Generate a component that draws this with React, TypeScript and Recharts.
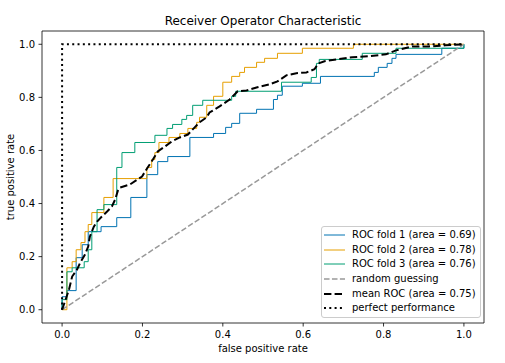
import React from 'react';
import { LineChart, Line, XAxis, YAxis, ReferenceArea, Legend } from 'recharts';

const FONT = '"DejaVu Sans", sans-serif';
const TITLE = 'Receiver Operator Characteristic';
const X_LABEL = 'false positive rate';
const Y_LABEL = 'true positive rate';
const X_TICKS = [0, 0.2, 0.4, 0.6, 0.8, 1.0];
const Y_TICKS = [0, 0.2, 0.4, 0.6, 0.8, 1.0];

const C1 = '#0072B2';
const C2 = '#E69F00';
const C3 = '#009E73';

// ROC vertices [fpr, tpr]
const fold1: number[][] = [
  [0, 0], [0, 0.049], [0.012, 0.049], [0.012, 0.072], [0.035, 0.072], [0.035, 0.196],
  [0.05, 0.196], [0.05, 0.245], [0.065, 0.245], [0.065, 0.294], [0.097, 0.294], [0.097, 0.313],
  [0.136, 0.313], [0.136, 0.347], [0.171, 0.347], [0.171, 0.423], [0.211, 0.423], [0.211, 0.509],
  [0.238, 0.509], [0.238, 0.558], [0.263, 0.558], [0.263, 0.577], [0.318, 0.577], [0.318, 0.649],
  [0.377, 0.649], [0.377, 0.664], [0.407, 0.664], [0.407, 0.687], [0.422, 0.687], [0.422, 0.702],
  [0.442, 0.702], [0.442, 0.74], [0.484, 0.74], [0.484, 0.755], [0.526, 0.755], [0.526, 0.792],
  [0.536, 0.792], [0.536, 0.808], [0.548, 0.808], [0.548, 0.842], [0.598, 0.842], [0.598, 0.853],
  [0.643, 0.853], [0.643, 0.879], [0.777, 0.879], [0.777, 0.894], [0.787, 0.894], [0.787, 0.913],
  [0.809, 0.913], [0.809, 0.928], [0.821, 0.928], [0.821, 0.947], [0.831, 0.947], [0.831, 0.962],
  [0.945, 0.962], [0.945, 0.985], [1.0, 0.985], [1.0, 1.0],
];

const fold2: number[][] = [
  [0, 0], [0.012, 0], [0.012, 0.158], [0.025, 0.158], [0.025, 0.181], [0.035, 0.181],
  [0.035, 0.226], [0.047, 0.226], [0.047, 0.253], [0.057, 0.253], [0.057, 0.294], [0.065, 0.294],
  [0.065, 0.321], [0.074, 0.321], [0.074, 0.366], [0.104, 0.366], [0.104, 0.423], [0.127, 0.423],
  [0.127, 0.494], [0.211, 0.494], [0.211, 0.536], [0.223, 0.536], [0.223, 0.566], [0.231, 0.566],
  [0.231, 0.592], [0.241, 0.592], [0.241, 0.63], [0.266, 0.63], [0.266, 0.649], [0.293, 0.649],
  [0.293, 0.664], [0.313, 0.664], [0.313, 0.683], [0.335, 0.683], [0.335, 0.706], [0.342, 0.706],
  [0.342, 0.725], [0.36, 0.725], [0.36, 0.77], [0.377, 0.77], [0.377, 0.804], [0.4, 0.804],
  [0.4, 0.857], [0.422, 0.857], [0.422, 0.879], [0.442, 0.879], [0.442, 0.894], [0.454, 0.894],
  [0.454, 0.913], [0.484, 0.913], [0.484, 0.932], [0.504, 0.932], [0.504, 0.947], [0.536, 0.947],
  [0.536, 0.966], [0.598, 0.966], [0.598, 0.985], [0.725, 0.985], [0.725, 1.0], [1.0, 1.0],
];

const fold3: number[][] = [
  [0, 0], [0, 0.038], [0.012, 0.038], [0.012, 0.143], [0.025, 0.143], [0.025, 0.158],
  [0.055, 0.158], [0.055, 0.181], [0.065, 0.181], [0.065, 0.226], [0.074, 0.226], [0.074, 0.294],
  [0.087, 0.294], [0.087, 0.377], [0.104, 0.377], [0.104, 0.396], [0.136, 0.396], [0.136, 0.536],
  [0.149, 0.536], [0.149, 0.592], [0.181, 0.592], [0.181, 0.63], [0.231, 0.63], [0.231, 0.657],
  [0.261, 0.657], [0.261, 0.683], [0.275, 0.683], [0.275, 0.698], [0.298, 0.698], [0.298, 0.717],
  [0.31, 0.717], [0.31, 0.732], [0.325, 0.732], [0.325, 0.77], [0.35, 0.77], [0.35, 0.789],
  [0.422, 0.789], [0.422, 0.804], [0.432, 0.804], [0.432, 0.823], [0.546, 0.823], [0.546, 0.857],
  [0.62, 0.857], [0.62, 0.875], [0.633, 0.875], [0.633, 0.928], [0.64, 0.928], [0.64, 0.943],
  [0.747, 0.943], [0.747, 0.966], [0.831, 0.966], [0.831, 0.985], [1.0, 0.985], [1.0, 1.0],
];

const meanFpr = [0, 0.017, 0.025, 0.037, 0.045, 0.057, 0.065, 0.069, 0.079, 0.087, 0.099, 0.112, 0.124, 0.132, 0.139, 0.144, 0.169, 0.199, 0.213, 0.226, 0.238, 0.256, 0.273, 0.293, 0.313, 0.33, 0.342, 0.36, 0.367, 0.392, 0.417, 0.437, 0.459, 0.486, 0.516, 0.536, 0.558, 0.583, 0.608, 0.628, 0.638, 0.653, 0.682, 0.722, 0.764, 0.806, 0.831, 0.871, 0.913, 0.955, 1.0];
const meanTpr = [0, 0.075, 0.125, 0.151, 0.177, 0.208, 0.238, 0.275, 0.313, 0.332, 0.351, 0.37, 0.389, 0.415, 0.449, 0.46, 0.472, 0.502, 0.536, 0.566, 0.596, 0.615, 0.634, 0.649, 0.66, 0.687, 0.706, 0.725, 0.743, 0.766, 0.792, 0.823, 0.826, 0.838, 0.849, 0.86, 0.883, 0.891, 0.894, 0.906, 0.928, 0.936, 0.943, 0.951, 0.955, 0.962, 0.977, 0.992, 0.992, 0.996, 1.0];

const randomPts: number[][] = [[0, 0], [1, 1]];
const perfectPts: number[][] = [[0, 0], [0, 1], [1, 1]];

const LEGEND_LABELS = [
  'ROC fold 1 (area = 0.69)',
  'ROC fold 2 (area = 0.78)',
  'ROC fold 3 (area = 0.76)',
  'random guessing',
  'mean ROC (area = 0.75)',
  'perfect performance',
];

const toData = (pts: number[][]) => pts.map(([x, y]) => ({ x, y }));
const meanData = meanFpr.map((x, i) => ({ x, y: meanTpr[i] }));

const STYLES = [
  { color: C1, width: 1, dash: undefined as string | undefined },
  { color: C2, width: 1, dash: undefined },
  { color: C3, width: 1, dash: undefined },
  { color: '#999999', width: 1.5, dash: '5.55 2.4' },
  { color: '#000000', width: 2, dash: '7.4 3.2' },
  { color: '#000000', width: 2, dash: '2 3.3' },
];

const LegendBox = () => (
  <div
    style={{
      boxSizing: 'border-box',
      width: 160,
      height: 92,
      border: '1px solid #cccccc',
      borderRadius: 3,
      background: 'rgba(255,255,255,0.8)',
      padding: '0.6px 2px 0 2px',
      fontFamily: FONT,
      fontSize: 10,
      color: '#000',
    }}
  >
    {LEGEND_LABELS.map((label, i) => (
      <div key={label} style={{ display: 'flex', alignItems: 'center', height: 14.7, whiteSpace: 'nowrap' }}>
        <svg width={21} height={6} style={{ marginRight: 7, flex: 'none' }}>
          <line
            x1={0}
            y1={3}
            x2={21}
            y2={3}
            stroke={STYLES[i].color}
            strokeWidth={STYLES[i].width}
            strokeDasharray={STYLES[i].dash}
          />
        </svg>
        <span style={{ lineHeight: '12px' }}>{label}</span>
      </div>
    ))}
  </div>
);

const fmt = (v: number) => v.toFixed(1);

export default function App() {
  return (
    <div style={{ position: 'absolute', left: 0, top: 0, width: 505, height: 363, background: '#fff' }}>
      <div
        style={{
          position: 'absolute',
          left: 42,
          top: 14,
          width: 442,
          textAlign: 'center',
          fontFamily: FONT,
          fontSize: 12,
          lineHeight: '15px',
          color: '#000',
        }}
      >
        {TITLE}
      </div>
      <LineChart width={505} height={363} margin={{ top: 31, right: 21, bottom: 0, left: 0 }}>
        <XAxis
          type="number"
          dataKey="x"
          domain={[-0.05, 1.05]}
          ticks={X_TICKS}
          tickFormatter={fmt}
          allowDataOverflow
          axisLine={false}
          tickLine={{ stroke: '#000', strokeWidth: 0.8 }}
          tickSize={3.5}
          tickMargin={4.5}
          tick={{ fill: '#000', fontSize: 10, fontFamily: FONT }}
          height={40}
          label={{ value: X_LABEL, position: 'insideBottom', offset: 11, fill: '#000', fontSize: 10, fontFamily: FONT }}
        />
        <YAxis
          type="number"
          domain={[-0.05, 1.05]}
          ticks={Y_TICKS}
          tickFormatter={fmt}
          allowDataOverflow
          axisLine={false}
          tickLine={{ stroke: '#000', strokeWidth: 0.8 }}
          tickSize={3.5}
          tickMargin={3.5}
          tick={{ fill: '#000', fontSize: 10, fontFamily: FONT }}
          width={42}
          label={{
            value: Y_LABEL,
            angle: -90,
            position: 'insideLeft',
            offset: 10,
            style: { textAnchor: 'middle' },
            fill: '#000',
            fontSize: 10,
            fontFamily: FONT,
          }}
        />
        <Line data={toData(fold1)} dataKey="y" type="linear" stroke={C1} strokeWidth={1} dot={false} activeDot={false} isAnimationActive={false} />
        <Line data={toData(fold2)} dataKey="y" type="linear" stroke={C2} strokeWidth={1} dot={false} activeDot={false} isAnimationActive={false} />
        <Line data={toData(fold3)} dataKey="y" type="linear" stroke={C3} strokeWidth={1} dot={false} activeDot={false} isAnimationActive={false} />
        <Line data={toData(randomPts)} dataKey="y" type="linear" stroke="#999999" strokeWidth={1.5} strokeDasharray="5.55 2.4" dot={false} activeDot={false} isAnimationActive={false} />
        <Line data={meanData} dataKey="y" type="linear" stroke="#000" strokeWidth={2} strokeDasharray="7.4 3.2" dot={false} activeDot={false} isAnimationActive={false} />
        <Line data={toData(perfectPts)} dataKey="y" type="linear" stroke="#000" strokeWidth={2} strokeDasharray="2 3.3" dot={false} activeDot={false} isAnimationActive={false} />
        <ReferenceArea x1={-0.05} x2={1.05} y1={-0.05} y2={1.05} fill="none" stroke="#000" strokeWidth={0.8} ifOverflow="visible" />
        <Legend
          layout="vertical"
          align="center"
          verticalAlign="middle"
          content={() => <LegendBox />}
          wrapperStyle={{ left: 321, top: 226, width: 160, height: 92 }}
        />
      </LineChart>
    </div>
  );
}
